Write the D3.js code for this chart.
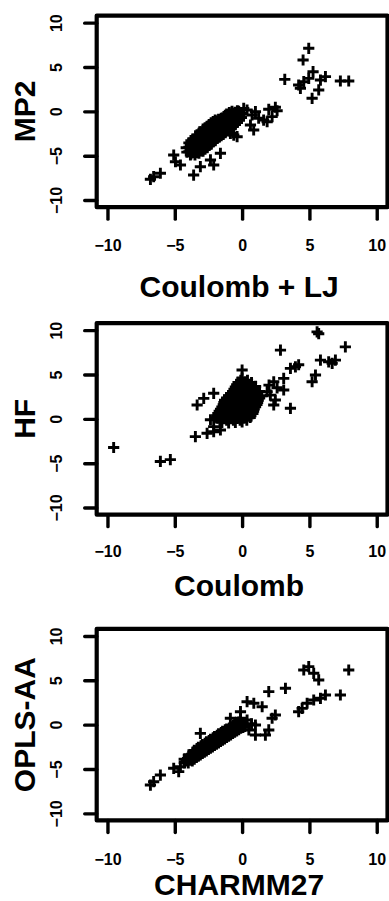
<!DOCTYPE html>
<html>
<head>
<meta charset="utf-8">
<script src="https://cdn.jsdelivr.net/npm/d3@7"></script>
<style>
  html, body { margin: 0; padding: 0; background: #fff; }
  svg { display: block; }
  text { font-family: "Liberation Sans", Arial, Helvetica, sans-serif; font-weight: bold; fill: #000; }
</style>
</head>
<body>
<svg id="chart" width="389" height="901"></svg>
<script>
// ---- data ----
const xTickValues = [-10, -5, 0, 5, 10];
const yTickValues = [-10, -5, 0, 5, 10];
const tickLabels = ["\u221210", "\u22125", "0", "5", "10"];
const xTitles = ["Coulomb + LJ", "Coulomb", "CHARMM27"];
const yTitles = ["MP2", "HF", "OPLS-AA"];

// Panel 1: Coulomb + LJ (x) vs MP2 (y)
const mp2Points = [
  [4.95,7.11],[4.53,5.79],[3.17,3.61],[5.27,4.47],[6.19,3.91],[5.82,3.53],[4.58,3.34],[4.95,3.72],
  [4.33,2.6],[5.69,2.41],[5.2,1.47],[7.3,3.42],[7.92,3.42],[4.2,2.97],
  [2.47,0.46],[1.98,0.23],[2.6,0.07],[2.23,-0.6],[1.6,-0.98],[1.86,-1.17],[0.86,-2.1],[0.62,-1.54],
  [0.12,0.34],[0.37,0.15],[0.99,-0.04],[0.74,-0.41],[1.23,-0.78],[-0.37,-2.86],[-0.87,-2.48],
  [-1.61,-4.73],[-2.11,-6.05],[-2.35,-5.48],[-3.1,-6.24],[-3.6,-7.18],[-5.08,-4.92],[-4.95,-5.68],
  [-4.58,-6.05],[-6.57,-7.37],[-6.07,-6.98],[-6.81,-7.66],[-3.84,-4.92],[-0.62,-2.67],
  [-4.1,-4.6],[-4.15,-4.1],
  [-3.8,-4.8],[-3.85,-4.3],[-3.75,-3.8],[-3.8,-3.3],
  [-3.5,-4.9],[-3.45,-4.4],[-3.55,-3.9],[-3.5,-3.4],[-3.45,-2.9],
  [-3.2,-4.7],[-3.25,-4.2],[-3.15,-3.7],[-3.2,-3.2],[-3.25,-2.7],[-3.15,-2.3],
  [-2.9,-4.5],[-2.95,-4.0],[-2.85,-3.5],[-2.9,-3.0],[-2.95,-2.5],[-2.9,-2.0],
  [-2.6,-4.1],[-2.55,-3.6],[-2.65,-3.1],[-2.6,-2.6],[-2.55,-2.1],[-2.6,-1.7],
  [-2.3,-3.7],[-2.35,-3.2],[-2.25,-2.7],[-2.3,-2.2],[-2.35,-1.7],[-2.3,-1.3],
  [-2.0,-3.3],[-1.95,-2.8],[-2.05,-2.3],[-2.0,-1.8],[-1.95,-1.3],[-2.0,-1.0],
  [-1.7,-2.9],[-1.75,-2.4],[-1.65,-1.9],[-1.7,-1.4],[-1.75,-0.9],
  [-1.4,-2.6],[-1.35,-2.1],[-1.45,-1.6],[-1.4,-1.1],[-1.35,-0.6],
  [-1.1,-2.2],[-1.15,-1.7],[-1.05,-1.2],[-1.1,-0.7],[-1.15,-0.3],
  [-0.8,-1.8],[-0.75,-1.3],[-0.85,-0.8],[-0.8,-0.3],[-0.75,0.0],
  [-0.5,-1.5],[-0.55,-1.0],[-0.45,-0.5],[-0.5,-0.1],
  [-0.2,-1.0],[-0.15,-0.5],[-0.25,0.0],
  [-3.95,-4.55],[-3.95,-4.05],[-3.95,-3.55],
  [-3.65,-4.65],[-3.65,-4.15],[-3.65,-3.65],[-3.65,-3.15],
  [-3.35,-4.65],[-3.35,-4.15],[-3.35,-3.65],[-3.35,-3.15],[-3.35,-2.65],
  [-3.05,-4.45],[-3.05,-3.95],[-3.05,-3.45],[-3.05,-2.95],[-3.05,-2.45],
  [-2.75,-4.25],[-2.75,-3.75],[-2.75,-3.25],[-2.75,-2.75],[-2.75,-2.25],[-2.75,-1.85],
  [-2.45,-3.85],[-2.45,-3.35],[-2.45,-2.85],[-2.45,-2.35],[-2.45,-1.85],[-2.45,-1.5],
  [-2.15,-3.45],[-2.15,-2.95],[-2.15,-2.45],[-2.15,-1.95],[-2.15,-1.45],[-2.15,-1.15],
  [-1.85,-3.05],[-1.85,-2.55],[-1.85,-2.05],[-1.85,-1.55],[-1.85,-1.1],
  [-1.55,-2.75],[-1.55,-2.25],[-1.55,-1.75],[-1.55,-1.25],[-1.55,-0.8],
  [-1.25,-2.4],[-1.25,-1.9],[-1.25,-1.4],[-1.25,-0.9],[-1.25,-0.45],
  [-0.95,-2.0],[-0.95,-1.5],[-0.95,-1.0],[-0.95,-0.5],[-0.95,-0.15],
  [-0.65,-1.6],[-0.65,-1.1],[-0.65,-0.6],[-0.65,-0.2],
  [-0.35,-1.25],[-0.35,-0.75],[-0.35,-0.3],[-0.35,0.05],
  [-0.05,-0.7],[-0.05,-0.25]
];

// Panel 2: Coulomb (x) vs HF (y)
const hfPoints = [
  [-9.54,-3.23],[-6.07,-4.8],[-5.33,-4.6],[-3.47,-2.0],[-3.34,1.56],[-2.85,2.31],[-2.11,2.88],
  [2.85,7.75],[5.57,9.81],[5.69,9.6],[7.67,8.12],[3.96,5.87],[3.59,5.69],[4.2,6.1],
  [5.82,6.62],[6.43,6.43],[6.93,6.62],[6.69,6.25],[5.2,4.18],[5.45,4.94],[3.59,1.19],
  [2.47,2.12],[2.35,1.56],[3.09,4.56],[2.35,4.18],[3.09,3.25],[1.86,3.06],[2.1,2.68],
  [-2.6,-1.63],[-2.11,-1.45],[-1.61,-1.25],[-2.11,-0.88],[-2.35,-0.1],[0.0,5.5],[2.6,3.5],[2.0,3.8],
  [-1.5,-0.4],[-1.0,-0.45],[-0.5,-0.4],[0.0,-0.35],
  [-1.9,0.1],[-1.4,0.15],[-0.9,0.1],[-0.4,0.05],[0.1,0.1],[0.6,0.15],
  [-1.8,0.6],[-1.3,0.65],[-0.8,0.6],[-0.3,0.55],[0.2,0.6],[0.8,0.6],
  [-1.6,1.1],[-1.1,1.05],[-0.6,1.1],[-0.1,1.15],[0.4,1.1],[0.9,1.1],
  [-1.4,1.6],[-0.9,1.65],[-0.4,1.6],[0.1,1.55],[0.6,1.6],[1.1,1.6],
  [-1.3,2.1],[-0.8,2.05],[-0.3,2.1],[0.2,2.15],[0.7,2.1],[1.2,2.1],
  [-1.0,2.6],[-0.5,2.65],[0.0,2.6],[0.5,2.55],[1.0,2.6],[1.4,2.6],
  [-0.7,3.1],[-0.2,3.15],[0.3,3.1],[0.8,3.05],[1.3,3.1],
  [-0.5,3.6],[0.0,3.55],[0.5,3.6],[1.0,3.65],
  [-0.3,4.1],[0.2,4.15],[0.7,4.1],
  [0.0,4.6],
  [-1.65,-0.15],[-1.15,-0.15],[-0.65,-0.15],[-0.15,-0.15],[0.35,-0.15],
  [-1.85,0.35],[-1.35,0.35],[-0.85,0.35],[-0.35,0.35],[0.15,0.35],[0.65,0.35],
  [-1.7,0.85],[-1.2,0.85],[-0.7,0.85],[-0.2,0.85],[0.3,0.85],[0.85,0.85],
  [-1.5,1.35],[-1.0,1.35],[-0.5,1.35],[0.0,1.35],[0.5,1.35],[1.0,1.35],
  [-1.35,1.85],[-0.85,1.85],[-0.35,1.85],[0.15,1.85],[0.65,1.85],[1.15,1.85],
  [-1.15,2.35],[-0.65,2.35],[-0.15,2.35],[0.35,2.35],[0.85,2.35],[1.3,2.35],
  [-0.85,2.85],[-0.35,2.85],[0.15,2.85],[0.65,2.85],[1.15,2.85],
  [-0.6,3.35],[-0.1,3.35],[0.4,3.35],[0.9,3.35],
  [-0.4,3.85],[0.1,3.85],[0.6,3.85],
  [-0.1,4.35],[0.4,4.35]
];

// Panel 3: CHARMM27 (x) vs OPLS-AA (y)
const oplsPoints = [
  [-6.81,-6.81],[-6.57,-6.43],[-6.07,-5.68],[-5.08,-4.92],[-4.71,-5.3],[-4.58,-4.74],
  [4.58,6.16],[4.95,6.54],[5.32,5.79],[5.69,5.04],[7.92,6.16],[7.3,3.34],[6.19,3.34],
  [5.82,2.97],[5.32,2.78],[4.83,2.41],[4.46,1.84],[4.2,1.46],[1.98,3.72],[3.22,4.1],
  [0.37,2.59],[0.87,2.41],[1.49,2.02],[2.47,1.09],[2.23,0.72],[1.98,-0.6],[1.73,-1.17],
  [0.99,-1.17],[0.99,-0.04],[-0.12,0.72],[-0.87,0.72],[0.37,0.52],[-0.12,1.46],[-3.1,-0.98],
  [0.12,-0.23],[0.5,-0.6],[0.7,0.1],
  [-4.3,-4.3],[-4.3,-3.9],
  [-4.0,-4.3],[-4.05,-3.8],[-3.95,-3.4],
  [-3.7,-4.1],[-3.75,-3.6],[-3.65,-3.1],
  [-3.4,-3.7],[-3.45,-3.2],[-3.35,-2.7],
  [-3.1,-3.4],[-3.15,-2.9],[-3.05,-2.4],
  [-2.8,-3.1],[-2.85,-2.6],[-2.75,-2.1],
  [-2.5,-2.8],[-2.55,-2.3],[-2.45,-1.8],
  [-2.2,-2.5],[-2.25,-2.0],[-2.15,-1.5],
  [-1.9,-2.2],[-1.95,-1.7],[-1.85,-1.2],
  [-1.6,-1.9],[-1.65,-1.4],[-1.55,-0.9],
  [-1.3,-1.6],[-1.35,-1.1],[-1.25,-0.6],
  [-1.0,-1.3],[-1.05,-0.8],[-0.95,-0.4],
  [-0.7,-1.0],[-0.75,-0.5],[-0.65,-0.1],
  [-0.4,-0.7],[-0.45,-0.2],[-0.35,0.2],
  [-0.1,-0.4],[-0.15,0.1],
  [0.2,-0.2],
  [-4.15,-4.1],
  [-3.85,-4.0],[-3.85,-3.5],
  [-3.55,-3.9],[-3.55,-3.4],[-3.55,-2.9],
  [-3.25,-3.55],[-3.25,-3.05],[-3.25,-2.55],
  [-2.95,-3.25],[-2.95,-2.75],[-2.95,-2.25],
  [-2.65,-2.95],[-2.65,-2.45],[-2.65,-1.95],
  [-2.35,-2.65],[-2.35,-2.15],[-2.35,-1.65],
  [-2.05,-2.35],[-2.05,-1.85],[-2.05,-1.35],
  [-1.75,-2.05],[-1.75,-1.55],[-1.75,-1.05],
  [-1.45,-1.75],[-1.45,-1.25],[-1.45,-0.75],
  [-1.15,-1.45],[-1.15,-0.95],[-1.15,-0.5],
  [-0.85,-1.15],[-0.85,-0.65],[-0.85,-0.25],
  [-0.55,-0.85],[-0.55,-0.35],[-0.55,0.05],
  [-0.25,-0.55],[-0.25,-0.05],[-0.25,0.3],
  [0.05,-0.3],[0.05,0.1]
];

const panelPoints = [mp2Points, hfPoints, oplsPoints];

// ---- layout ----
const layout = [
  { zero: 111.35, tickBase: 250.5, titleBase: 296.5 },
  { zero: 418.85, tickBase: 556.5, titleBase: 595.5 },
  { zero: 724.65, tickBase: 864.5, titleBase: 894.5 }
];
const yUnit = 8.87;
const svg = d3.select("#chart");
svg.append("rect").attr("width", 389).attr("height", 901).attr("fill", "#fff");

const x = d3.scaleLinear().domain([-10.8, 10.8]).range([96.7, 387.5]);

layout.forEach((L, i) => {
  const top = L.zero - 10.8 * yUnit;
  const bottom = L.zero + 10.8 * yUnit;
  const y = d3.scaleLinear().domain([-10.8, 10.8]).range([bottom, top]);
  const g = svg.append("g");

  // points
  const arm = 5.6;
  g.append("g").selectAll("path").data(panelPoints[i]).join("path")
    .attr("d", d => {
      const px = x(d[0]), py = y(d[1]);
      return `M${px - arm},${py}H${px + arm}M${px},${py - arm}V${py + arm}`;
    })
    .attr("stroke", "#000").attr("stroke-width", 2.9).attr("fill", "none");

  // box
  g.append("rect")
    .attr("x", x.range()[0]).attr("y", top)
    .attr("width", x.range()[1] - x.range()[0]).attr("height", bottom - top)
    .attr("fill", "none").attr("stroke", "#000").attr("stroke-width", 4.2)
    .attr("stroke-linejoin", "round");

  const tickStyle = sel => sel
    .style("font-size", "16px").style("font-family", "'Liberation Sans', Arial, sans-serif")
    .style("font-weight", "bold").attr("fill", "#000");

  // x axis
  const xAxis = d3.axisBottom(x).tickValues(xTickValues).tickSize(12).tickSizeOuter(0)
    .tickFormat((d, k) => tickLabels[k]);
  const gx = g.append("g").attr("transform", `translate(0,${bottom})`).call(xAxis);
  gx.select(".domain").remove();
  gx.selectAll(".tick line").attr("stroke", "#000").attr("stroke-width", 3.4).attr("stroke-linecap", "round");
  gx.selectAll(".tick text").attr("y", null).attr("dy", null)
    .attr("transform", `translate(0,${L.tickBase - bottom})`)
    .call(tickStyle);

  // y axis
  const yAxis = d3.axisLeft(y).tickValues(yTickValues).tickSize(12).tickSizeOuter(0)
    .tickFormat((d, k) => tickLabels[k]);
  const gy = g.append("g").attr("transform", `translate(${x.range()[0]},0)`).call(yAxis);
  gy.select(".domain").remove();
  gy.selectAll(".tick line").attr("stroke", "#000").attr("stroke-width", 3.4).attr("stroke-linecap", "round");
  gy.selectAll(".tick text").attr("x", null).attr("dy", null)
    .attr("text-anchor", "middle")
    .attr("transform", `translate(${62 - x.range()[0]},0) rotate(-90)`)
    .call(tickStyle);

  // titles
  g.append("text").attr("x", (x.range()[0] + x.range()[1]) / 2 - 3).attr("y", L.titleBase)
    .attr("text-anchor", "middle").style("font-size", "30px").text(xTitles[i]);
  g.append("text").attr("transform", `translate(35,${L.zero}) rotate(-90)`)
    .attr("text-anchor", "middle").style("font-size", "30px").text(yTitles[i]);
});
</script>
</body>
</html>
